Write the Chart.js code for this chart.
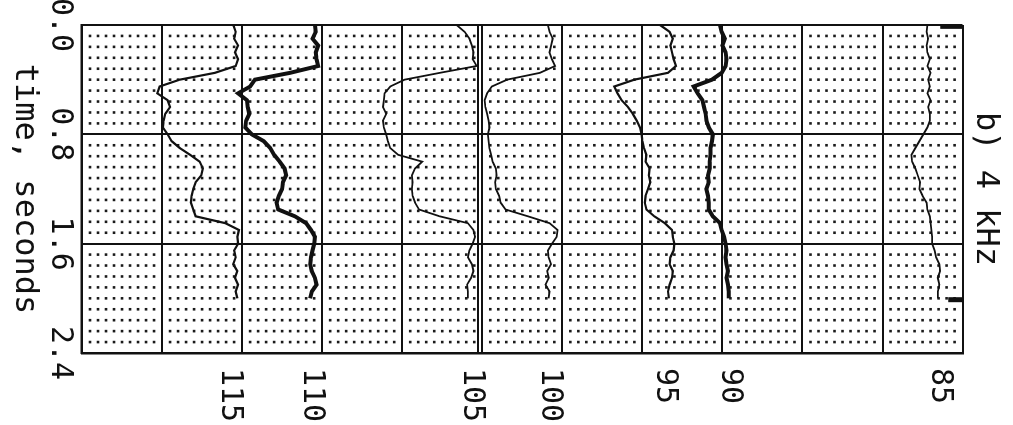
<!DOCTYPE html>
<html>
<head>
<meta charset="utf-8">
<script src="https://cdn.jsdelivr.net/npm/chart.js@4.4.1/dist/chart.umd.min.js"></script>
<style>
  html, body { margin: 0; padding: 0; background: #fff; overflow: hidden; }
  /* the plot is drawn upright and the whole canvas is turned a quarter clockwise */
  #wrap { position: absolute; left: 0; top: 0; width: 425px; height: 1013px;
          transform-origin: 0 0; transform: translate(1013px, 0) rotate(90deg); }
</style>
</head>
<body>
<div id="wrap"><canvas id="plot" width="425" height="1013"></canvas></div>
<script>
// time in seconds, trace positions in grid divisions (0 = left edge of the sheet)
const times = [0.00, 0.05, 0.10, 0.15, 0.20, 0.25, 0.30, 0.35, 0.40, 0.45, 0.50, 0.55, 0.60, 0.65,
  0.70, 0.75, 0.80, 0.85, 0.90, 0.95, 1.00, 1.05, 1.10, 1.15, 1.20, 1.25, 1.30, 1.35, 1.40, 1.45,
  1.50, 1.55, 1.60, 1.65, 1.70, 1.75, 1.80, 1.85, 1.90, 1.95, 2.00];

const trace115 = [1.89, 1.92, 1.90, 1.95, 1.91, 1.95, 1.92, 1.66, 1.22, 0.97, 0.94, 1.07, 1.10, 1.04,
  1.02, 1.01, 1.07, 1.12, 1.22, 1.35, 1.47, 1.51, 1.49, 1.42, 1.39, 1.37, 1.36, 1.39, 1.42, 1.79,
  1.96, 1.94, 1.95, 1.90, 1.92, 1.89, 1.94, 1.91, 1.95, 1.92, 1.94];
const trace110 = [2.91, 2.92, 2.88, 2.95, 2.92, 2.93, 2.95, 2.60, 2.16, 2.10, 1.95, 2.06, 2.07, 2.09,
  2.05, 2.04, 2.12, 2.27, 2.35, 2.40, 2.47, 2.53, 2.55, 2.51, 2.50, 2.46, 2.43, 2.45, 2.66, 2.80,
  2.86, 2.91, 2.90, 2.88, 2.86, 2.85, 2.87, 2.91, 2.93, 2.87, 2.85];
const trace105 = [4.68, 4.78, 4.84, 4.87, 4.89, 4.88, 4.93, 4.47, 4.03, 3.85, 3.78, 3.77, 3.76, 3.80,
  3.76, 3.77, 3.80, 3.82, 3.85, 3.95, 4.25, 4.16, 4.12, 4.13, 4.12, 4.13, 4.16, 4.21, 4.47, 4.82,
  4.89, 4.91, 4.88, 4.84, 4.82, 4.87, 4.89, 4.86, 4.81, 4.82, 4.82];
const trace100 = [5.82, 5.84, 5.88, 5.86, 5.84, 5.87, 5.91, 5.72, 5.31, 5.12, 5.06, 5.03, 5.04, 5.06,
  5.08, 5.09, 5.07, 5.08, 5.09, 5.11, 5.13, 5.17, 5.18, 5.16, 5.17, 5.21, 5.23, 5.29, 5.57, 5.84,
  5.94, 5.93, 5.87, 5.82, 5.83, 5.86, 5.81, 5.83, 5.79, 5.84, 5.83];
const trace95 = [7.22, 7.34, 7.38, 7.35, 7.37, 7.39, 7.42, 7.32, 6.90, 6.65, 6.69, 6.74, 6.82, 6.88,
  6.93, 6.97, 6.99, 7.00, 7.02, 7.05, 7.04, 7.09, 7.08, 7.10, 7.07, 7.04, 7.03, 7.05, 7.15, 7.28,
  7.37, 7.38, 7.40, 7.39, 7.35, 7.34, 7.38, 7.37, 7.34, 7.32, 7.33];
const trace90 = [7.97, 7.99, 8.03, 8.00, 8.04, 8.05, 8.04, 7.99, 7.87, 7.64, 7.69, 7.75, 7.77, 7.79,
  7.80, 7.83, 7.88, 7.87, 7.85, 7.85, 7.84, 7.84, 7.82, 7.83, 7.80, 7.82, 7.83, 7.83, 7.88, 7.97,
  7.99, 8.02, 8.04, 8.05, 8.04, 8.05, 8.07, 8.05, 8.07, 8.08, 8.08];
const trace85 = [10.56, 10.55, 10.57, 10.55, 10.56, 10.59, 10.56, 10.60, 10.57, 10.59, 10.56, 10.60,
  10.57, 10.59, 10.59, 10.56, 10.51, 10.46, 10.41, 10.36, 10.37, 10.41, 10.44, 10.47, 10.46, 10.50,
  10.55, 10.56, 10.59, 10.60, 10.61, 10.62, 10.62, 10.65, 10.67, 10.71, 10.72, 10.69, 10.71, 10.69, 10.69];

// short end marks on the right edge of the sheet
const markTimes = [0.01, 0.01, 2.01, 2.01];
const markPos = [10.72, 11.0, 10.82, 11.0];

const levelNames = ['115', '110', '105', '100', '95', '90', '85'];
const levelPos = [1.85, 2.87, 4.87, 5.84, 7.28, 8.09, 10.71];
const timeTicks = [0.0, 0.8, 1.6, 2.4];

const ink = '#111';
const tickFont = { family: 'DejaVu Sans Mono', size: 30, weight: 'normal' };
const titleFont = { family: 'DejaVu Sans Mono', size: 32, weight: 'normal' };

const pts = vals => times.map((t, i) => ({ x: t, y: vals[i] }));
const markData = [
  { x: markTimes[0], y: markPos[0] }, { x: markTimes[1], y: markPos[1] },
  { x: 1.0, y: null },
  { x: markTimes[2], y: markPos[2] }, { x: markTimes[3], y: markPos[3] }
];

// dotted sub-grid, ten steps per major cell
const dotGrid = {
  id: 'dotGrid',
  beforeDatasetsDraw(chart) {
    const { ctx, scales: { x, y } } = chart;
    ctx.save();
    ctx.fillStyle = '#1a1a1a';
    for (let k = 1; k < 30; k++) {
      if (k % 10 === 0) continue;
      const px = x.getPixelForValue(k * 0.08);
      for (let j = 1; j < 110; j++) {
        if (j % 10 === 0) continue;
        const py = y.getPixelForValue(j / 10);
        ctx.fillRect(px - 1.3, py - 1.3, 2.6, 2.6);
      }
    }
    ctx.restore();
  }
};

const line = (label, vals, width) => ({
  label, data: pts(vals), borderColor: ink, borderWidth: width,
  pointRadius: 0, tension: 0, fill: false
});

new Chart(document.getElementById('plot'), {
  type: 'line',
  data: {
    datasets: [
      line('115', trace115, 2.2),
      line('110', trace110, 4),
      line('105', trace105, 1.8),
      line('100', trace100, 1.8),
      line('95', trace95, 2.2),
      line('90', trace90, 4),
      line('85', trace85, 1.8),
      { label: 'ends', data: markData, borderColor: ink, borderWidth: 5, pointRadius: 0, spanGaps: false }
    ]
  },
  options: {
    responsive: false,
    animation: false,
    devicePixelRatio: 1,
    layout: { padding: { left: 25, right: 0, top: 0, bottom: 0 } },
    plugins: {
      legend: { display: false },
      tooltip: { enabled: false },
      title: {
        display: true, fullSize: false, text: 'b) 4 kHz', color: ink, font: titleFont,
        padding: { top: 8, bottom: 4 }
      }
    },
    scales: {
      x: {
        type: 'linear', min: 0, max: 2.4,
        afterBuildTicks: s => { s.ticks = timeTicks.map(v => ({ value: v })); },
        afterFit: s => { s.paddingLeft = 0; s.paddingRight = 0; s.height = 82; },
        ticks: { callback: v => v.toFixed(1), color: ink, font: tickFont, padding: 4, maxRotation: 0, autoSkip: false },
        grid: { color: ink, lineWidth: 2, drawTicks: false },
        border: { display: true, color: ink, width: 2.5 },
        title: { display: true, text: 'time, seconds', color: ink, font: titleFont, padding: { top: 0, bottom: 5 } }
      },
      y: {
        type: 'linear', position: 'right', min: 0, max: 11,
        afterBuildTicks: s => {
          const vals = [];
          for (let i = 0; i <= 11; i++) vals.push(i);
          vals.push(4.95);
          s.ticks = vals.concat(levelPos).sort((a, b) => a - b).map(v => ({ value: v }));
        },
        afterFit: s => { s.width = 72; },
        ticks: {
          autoSkip: false, color: ink, font: tickFont, padding: 15,
          callback: v => { const i = levelPos.indexOf(v); return i >= 0 ? levelNames[i] : ''; }
        },
        grid: {
          drawTicks: false, lineWidth: 2,
          color: c => (Number.isInteger(c.tick.value) || c.tick.value === 4.95) ? ink : 'rgba(0,0,0,0)'
        },
        border: { display: true, color: ink, width: 2.5 }
      }
    }
  },
  plugins: [dotGrid]
});
</script>
</body>
</html>
